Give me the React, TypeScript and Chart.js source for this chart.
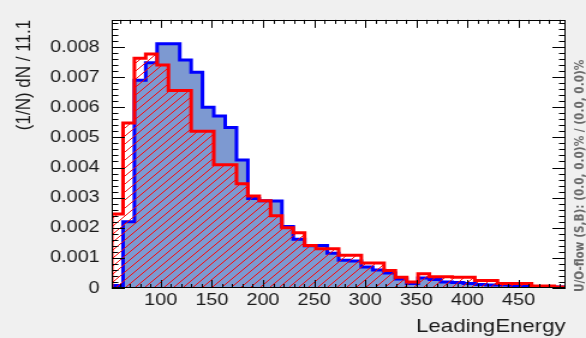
import React, { useEffect, useRef } from 'react';
import { Chart, registerables } from 'chart.js';

Chart.register(...registerables);

// ---- data ----
const X_MIN = 52;
const BIN_WIDTH = 11.1;
const Y_MAX = 0.0089;

// signal (blue filled histogram), one value per bin
const signal = [
  0.00008, 0.0022, 0.0069, 0.00748, 0.00811, 0.00811, 0.00757, 0.00716, 0.006, 0.00571,
  0.00533, 0.00425, 0.00297, 0.0029, 0.00289, 0.00204, 0.00162, 0.0014, 0.00141, 0.00115,
  0.00092, 0.0009, 0.0007, 0.0006, 0.0005, 0.0003, 0.00015, 0.00033, 0.00028, 0.0002,
  0.00018, 0.00015, 0.00012, 0.0001, 0.0001, 0.00008, 0.00008, 0.00005, 0.00005, 0.00003,
];

// background (red hatched histogram), one value per bin
const background = [
  0.00246, 0.00548, 0.00763, 0.00777, 0.0074, 0.00656, 0.00656, 0.0052, 0.0052, 0.00409,
  0.00409, 0.00346, 0.00305, 0.0029, 0.0024, 0.002, 0.00183, 0.00141, 0.0013, 0.0013,
  0.00109, 0.00109, 0.00083, 0.00083, 0.00058, 0.00036, 0.0002, 0.00047, 0.00037, 0.00037,
  0.00036, 0.00036, 0.00025, 0.00025, 0.00015, 0.00015, 0.00015, 0.00007, 0.00007, 0.00003,
];

const xTickValues = [100, 150, 200, 250, 300, 350, 400, 450];
const yTickValues = [0, 0.001, 0.002, 0.003, 0.004, 0.005, 0.006, 0.007, 0.008];

const X_TITLE = 'LeadingEnergy';
const Y_TITLE = '(1/N) dN / 11.1';
const OVERFLOW_TEXT = 'U/O-flow (S,B): (0.0, 0.0)% / (0.0, 0.0)%';

// ---- layout / style ----
const CANVAS_W = 488;
const CANVAS_H = 338;
const DISPLAY_W = 586;
const FONT = '"Liberation Sans", Arial, Helvetica, sans-serif';
const TEXT_COLOR = '#1a1a1a';
const BLUE_FILL = 'rgb(125,153,209)';

function histogramPoints(values: number[]) {
  const edge = (i: number) => X_MIN + i * BIN_WIDTH;
  const pts: { x: number; y: number }[] = [{ x: edge(0), y: 0 }];
  values.forEach((v, i) => pts.push({ x: edge(i), y: v }));
  pts.push({ x: edge(values.length), y: values[values.length - 1] });
  pts.push({ x: edge(values.length), y: 0 });
  return pts;
}

function makeHatch(): CanvasPattern | string {
  const c = document.createElement('canvas');
  c.width = 8;
  c.height = 8;
  const g = c.getContext('2d');
  if (!g) return 'rgba(255,0,0,0.3)';
  g.strokeStyle = 'rgba(255,0,0,0.95)';
  g.lineWidth = 1;
  g.beginPath();
  g.moveTo(0, 8);
  g.lineTo(8, 0);
  g.moveTo(-2, 2);
  g.lineTo(2, -2);
  g.moveTo(6, 10);
  g.lineTo(10, 6);
  g.stroke();
  return g.createPattern(c, 'repeat') || 'rgba(255,0,0,0.3)';
}

const backgroundPlugin = {
  id: 'rootBackground',
  beforeDraw(chart: any) {
    const { ctx, chartArea: a } = chart;
    ctx.save();
    ctx.fillStyle = '#f0f0f0';
    ctx.fillRect(0, 0, chart.width, chart.height);
    ctx.fillStyle = '#ffffff';
    ctx.fillRect(a.left, a.top, a.right - a.left, a.bottom - a.top);
    ctx.restore();
  },
};

const axesPlugin = {
  id: 'rootAxes',
  afterDatasetsDraw(chart: any) {
    const { ctx, chartArea: a, scales } = chart;
    const xs = scales.x;
    const ys = scales.y;
    ctx.save();
    ctx.strokeStyle = '#000000';
    ctx.lineWidth = 1;
    ctx.beginPath();
    for (let v = Math.ceil(xs.min / 10) * 10; v <= xs.max; v += 10) {
      const px = Math.round(xs.getPixelForValue(v)) + 0.5;
      const len = v % 50 === 0 ? 8 : 4;
      ctx.moveTo(px, a.bottom);
      ctx.lineTo(px, a.bottom - len);
      ctx.moveTo(px, a.top);
      ctx.lineTo(px, a.top + len);
    }
    for (let k = 0; k * 0.0002 <= ys.max + 1e-12; k++) {
      const py = Math.round(ys.getPixelForValue(k * 0.0002)) + 0.5;
      const len = k % 5 === 0 ? 11 : 5.5;
      ctx.moveTo(a.left, py);
      ctx.lineTo(a.left + len, py);
      ctx.moveTo(a.right, py);
      ctx.lineTo(a.right - len, py);
    }
    ctx.stroke();
    ctx.strokeRect(
      Math.round(a.left) + 0.5,
      Math.round(a.top) + 0.5,
      Math.round(a.right - a.left) - 1,
      Math.round(a.bottom - a.top) - 1
    );
    ctx.restore();
  },
  afterDraw(chart: any) {
    const { ctx } = chart;
    ctx.save();
    ctx.translate(chart.width - 5, 292);
    ctx.rotate(-Math.PI / 2);
    ctx.font = 'bold 10.5px "DejaVu Sans", sans-serif';
    ctx.fillStyle = '#686868';
    ctx.textAlign = 'left';
    ctx.textBaseline = 'middle';
    ctx.fillText(OVERFLOW_TEXT, 0, 0);
    ctx.restore();
  },
};

export default function App() {
  const canvasRef = useRef<HTMLCanvasElement | null>(null);

  useEffect(() => {
    const canvas = canvasRef.current;
    if (!canvas) return;
    const hatch = makeHatch();
    const chart = new Chart(canvas, {
      type: 'line',
      data: {
        datasets: [
          {
            label: 'Background',
            data: histogramPoints(background),
            stepped: true,
            borderColor: '#ff0000',
            borderWidth: 3,
            borderJoinStyle: 'miter',
            borderCapStyle: 'butt',
            backgroundColor: hatch as any,
            fill: 'origin',
            pointRadius: 0,
            tension: 0,
            order: 1,
          },
          {
            label: 'Signal',
            data: histogramPoints(signal),
            stepped: true,
            borderColor: '#0000ff',
            borderWidth: 3,
            borderJoinStyle: 'miter',
            borderCapStyle: 'butt',
            backgroundColor: BLUE_FILL,
            fill: 'origin',
            pointRadius: 0,
            tension: 0,
            order: 2,
          },
        ],
      },
      options: {
        responsive: false,
        animation: false,
        devicePixelRatio: 1,
        layout: { padding: { top: 5, right: 17, bottom: 0, left: 0 } },
        plugins: {
          legend: { display: false },
          tooltip: { enabled: false },
        },
        scales: {
          x: {
            type: 'linear',
            min: X_MIN,
            max: X_MIN + signal.length * BIN_WIDTH,
            bounds: 'data',
            grid: { display: false, drawTicks: false },
            border: { display: false },
            afterBuildTicks: (s: any) => {
              s.ticks = xTickValues.map((v) => ({ value: v }));
            },
            afterFit: (s: any) => {
              s.height = 50;
            },
            ticks: {
              autoSkip: false,
              maxRotation: 0,
              padding: 3,
              color: TEXT_COLOR,
              font: { family: FONT, size: 16.5 },
              callback: (v: any) => String(v),
            },
            title: {
              display: true,
              text: X_TITLE,
              align: 'end',
              color: TEXT_COLOR,
              font: { family: FONT, size: 18.5 },
              padding: { top: 0, bottom: 0 },
            },
          },
          y: {
            type: 'linear',
            min: 0,
            max: Y_MAX,
            bounds: 'data',
            grid: { display: false, drawTicks: false },
            border: { display: false },
            afterBuildTicks: (s: any) => {
              s.ticks = yTickValues.map((v) => ({ value: v }));
            },
            afterFit: (s: any) => {
              s.width = 93;
            },
            ticks: {
              autoSkip: false,
              padding: 10,
              color: TEXT_COLOR,
              font: { family: FONT, size: 16.5 },
              callback: (v: any) => (Number(v) === 0 ? '0' : Number(v).toFixed(3)),
            },
            title: {
              display: true,
              text: Y_TITLE,
              align: 'end',
              color: TEXT_COLOR,
              font: { family: FONT, size: 17 },
              padding: { top: 10, bottom: 0 },
            },
          },
        },
      } as any,
      plugins: [backgroundPlugin, axesPlugin],
    });
    return () => chart.destroy();
  }, []);

  return (
    <div
      style={{
        position: 'fixed',
        left: 0,
        top: 0,
        width: DISPLAY_W,
        height: CANVAS_H,
        background: '#f0f0f0',
        overflow: 'hidden',
      }}
    >
      <canvas
        ref={canvasRef}
        width={CANVAS_W}
        height={CANVAS_H}
        style={{ width: `${DISPLAY_W}px`, height: `${CANVAS_H}px`, display: 'block' }}
      />
    </div>
  );
}
